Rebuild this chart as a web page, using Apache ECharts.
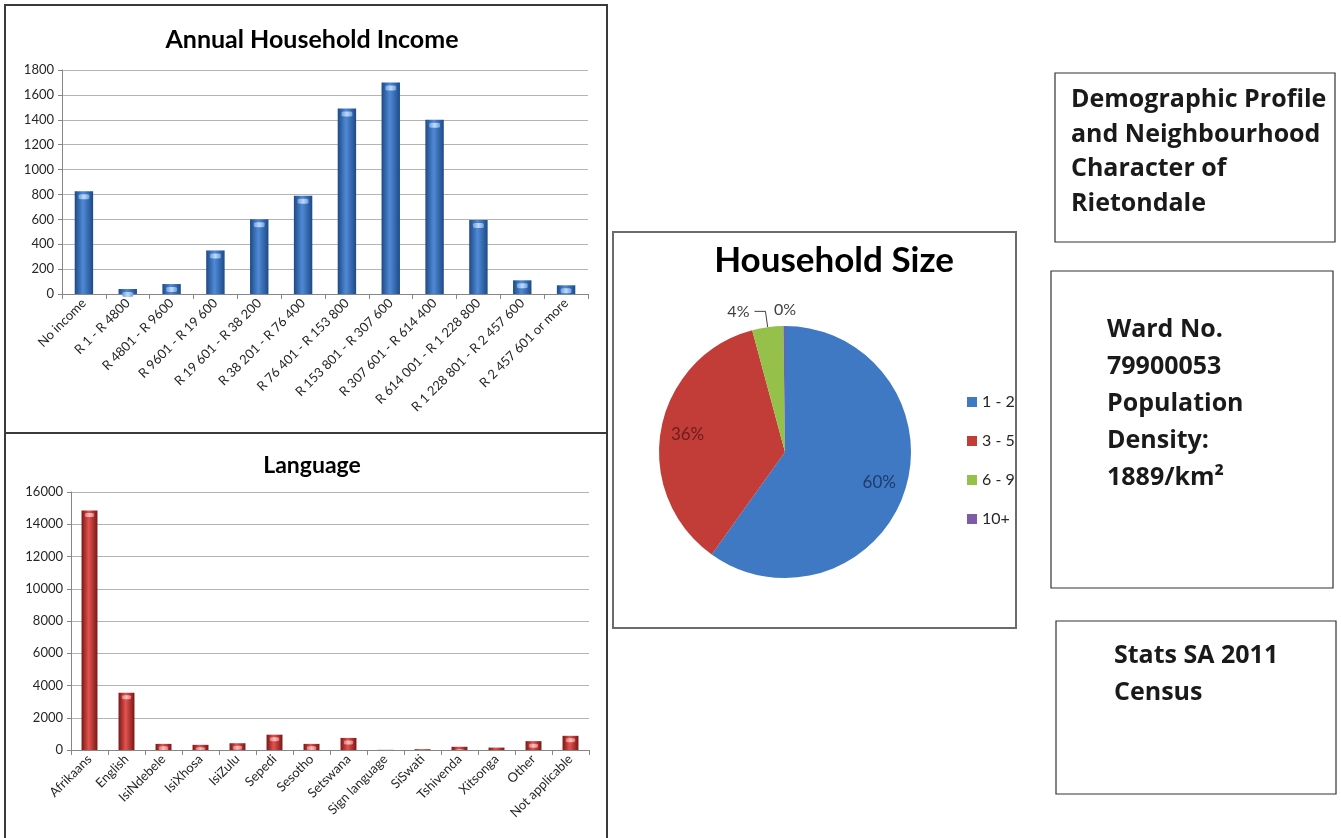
<!DOCTYPE html>
<html><head><meta charset="utf-8">
<script src="https://cdn.jsdelivr.net/npm/echarts@6/dist/echarts.min.js"></script>
<style>html,body{margin:0;padding:0;background:#fff;}#c{width:1341px;height:838px;}</style>
</head><body><div id="c"></div>
<script>
// ---- data ----
const incomeCategories = ['No income','R 1 - R 4800','R 4801 - R 9600','R 9601 - R 19 600','R 19 601 - R 38 200','R 38 201 - R 76 400','R 76 401 - R 153 800','R 153 801 - R 307 600','R 307 601 - R 614 400','R 614 001 - R 1 228 800','R 1 228 801 - R 2 457 600','R 2 457 601 or more'];
const incomeValues = [825, 40, 80, 350, 600, 790, 1490, 1700, 1400, 595, 110, 70];
const incomeTicks = [0, 200, 400, 600, 800, 1000, 1200, 1400, 1600, 1800];

const languageCategories = ['Afrikaans','English','IsiNdebele','IsiXhosa','IsiZulu','Sepedi','Sesotho','Setswana','Sign language','SiSwati','Tshivenda','Xitsonga','Other','Not applicable'];
const languageValues = [14850, 3550, 380, 320, 420, 950, 380, 750, 10, 50, 200, 150, 550, 880];
const languageTicks = [0, 2000, 4000, 6000, 8000, 10000, 12000, 14000, 16000];

const sizeCategories = ['1 - 2', '3 - 5', '6 - 9', '10+'];
const sizeValues = [60, 36, 4, 0.2];

// ---- styling ----
const FONT = 'Lato, "Open Sans", sans-serif';
const BOXFONT = '"Open Sans", "DejaVu Sans", sans-serif';
const sizeColors = ['#3f78c3', '#c23c38', '#95c049', '#7d5ba6'];
const sizeLabelColors = ['#1d3c6c', '#6c1d1d', '#404040', '#404040'];

function barGrad(dark, light) {
  return new echarts.graphic.LinearGradient(0, 0, 1, 0, [
    {offset: 0, color: dark}, {offset: 0.45, color: light}, {offset: 1, color: dark}
  ]);
}
function capGrad(edge, light) {
  return new echarts.graphic.LinearGradient(0, 0, 1, 0, [
    {offset: 0, color: edge}, {offset: 0.5, color: light}, {offset: 1, color: edge}
  ]);
}
function yAxisFor(ticks, gridIndex) {
  return {
    type: 'value', gridIndex,
    min: ticks[0], max: ticks[ticks.length - 1], interval: ticks[1] - ticks[0],
    axisLine: {show: true, lineStyle: {color: '#868686'}},
    axisTick: {show: true, length: 4, lineStyle: {color: '#868686'}},
    splitLine: {lineStyle: {color: '#b4b4b4'}},
    axisLabel: {fontFamily: FONT, fontSize: 13, color: '#262626', margin: 8,
      formatter: v => String(v)}
  };
}
function xAxisFor(cats, gridIndex) {
  return {
    type: 'category', gridIndex, data: cats,
    axisLine: {lineStyle: {color: '#868686'}},
    axisTick: {show: true, length: 5, lineStyle: {color: '#868686'}},
    axisLabel: {fontFamily: FONT, fontSize: 13, color: '#262626', rotate: 45, interval: 0, margin: 7}
  };
}

const chart = echarts.init(document.getElementById('c'), null, {renderer: 'canvas'});
const option = {
  animation: false,
  backgroundColor: '#ffffff',
  title: [
    {text: 'Annual Household Income', left: 307, top: 22, textAlign: 'center',
     textStyle: {fontFamily: FONT, fontSize: 25, fontWeight: 'bold', color: '#000'}},
    {text: 'Language', left: 307, top: 449, textAlign: 'center',
     textStyle: {fontFamily: FONT, fontSize: 23, fontWeight: 'bold', color: '#000'}},
    {text: 'Household Size', left: 829, top: 238, textAlign: 'center',
     textStyle: {fontFamily: FONT, fontSize: 35, fontWeight: 'bold', color: '#000'}}
  ],
  grid: [
    {left: 62, top: 70, width: 526, height: 224},
    {left: 71, top: 492, width: 518, height: 258}
  ],
  xAxis: [xAxisFor(incomeCategories, 0), xAxisFor(languageCategories, 1)],
  yAxis: [yAxisFor(incomeTicks, 0), yAxisFor(languageTicks, 1)],
  legend: {
    data: sizeCategories, orient: 'vertical', left: 962, top: 389,
    itemWidth: 10, itemHeight: 10, itemGap: 23, icon: 'rect',
    textStyle: {fontFamily: FONT, fontSize: 16, color: '#262626'}
  },
  series: [
    {type: 'bar', xAxisIndex: 0, yAxisIndex: 0, data: incomeValues, barWidth: '42%', barGap: '-100%',
     itemStyle: {color: barGrad('#1d4a86', '#4f8ad6')}},
    {type: 'pictorialBar', xAxisIndex: 0, yAxisIndex: 0, data: incomeValues, silent: true,
     symbol: 'roundRect', symbolSize: ['36%', 5], symbolPosition: 'end', symbolOffset: [0, 3], z: 3,
     itemStyle: {color: capGrad('#6e9ee0', '#c2daf7')}},
    {type: 'bar', xAxisIndex: 1, yAxisIndex: 1, data: languageValues, barWidth: '43%', barGap: '-100%',
     itemStyle: {color: barGrad('#7a1616', '#e2544f')}},
    {type: 'pictorialBar', xAxisIndex: 1, yAxisIndex: 1, data: languageValues, silent: true,
     symbol: 'roundRect', symbolSize: ['36%', 4], symbolPosition: 'end', symbolOffset: [0, 2.5], z: 3,
     symbolClip: true,
     itemStyle: {color: capGrad('#e57573', '#f8c0be')}},
    {type: 'pie', name: 'Household Size', center: [785, 452], radius: 126,
     startAngle: 90, clockwise: true, avoidLabelOverlap: false,
     data: sizeCategories.map((n, i) => ({
       name: n, value: sizeValues[i],
       itemStyle: {color: sizeColors[i]},
       label: i < 2 ? {show: false} : {show: true},
       labelLine: i < 2 ? {show: false} : {show: i === 2}
     })),
     label: {position: 'outside', fontFamily: FONT, fontSize: 16, color: '#404040',
       formatter: p => Math.round(p.percent) + '%'},
     labelLine: {length: 16, length2: 11, lineStyle: {color: '#404040', width: 1}},
     labelLayout: function (params) {
       if (params.dataIndex === 3) {
         return {dx: 28, dy: 0};
       }
       return {};
     }
    },
    // inner percentage labels for the two large slices, sharing the same data
    {type: 'pie', name: 'labels', center: [785, 452], radius: [0, 192], silent: true,
     startAngle: 90, clockwise: true, legendHoverLink: false,
     data: sizeCategories.map((n, i) => ({
       name: n, value: sizeValues[i],
       itemStyle: {color: 'rgba(0,0,0,0)'},
       label: {show: i < 2, color: sizeLabelColors[i]}
     })),
     label: {position: 'inside', fontFamily: FONT, fontSize: 17,
       formatter: p => Math.round(p.percent) + '%'},
     labelLine: {show: false}
    }
  ],
  graphic: [
    {type: 'rect', shape: {x: 5, y: 5, width: 602, height: 428}, style: {fill: 'none', stroke: '#3a3a3a', lineWidth: 2}, z: 100},
    {type: 'rect', shape: {x: 5, y: 433, width: 602, height: 420}, style: {fill: 'none', stroke: '#3a3a3a', lineWidth: 2}, z: 100},
    {type: 'rect', shape: {x: 613, y: 232, width: 403, height: 396}, style: {fill: 'none', stroke: '#6b6b6b', lineWidth: 2}, z: 100},
    {type: 'rect', shape: {x: 1055, y: 73, width: 280, height: 169}, style: {fill: 'none', stroke: '#333', lineWidth: 1.2}, z: 100},
    {type: 'rect', shape: {x: 1051, y: 271, width: 282, height: 317}, style: {fill: 'none', stroke: '#333', lineWidth: 1.2}, z: 100},
    {type: 'rect', shape: {x: 1056, y: 621, width: 280, height: 173}, style: {fill: 'none', stroke: '#333', lineWidth: 1.2}, z: 100},
    {type: 'text', left: 1071, top: 83, z: 100,
     style: {text: 'Demographic Profile\nand Neighbourhood\nCharacter of\nRietondale', fill: '#1a1a1a', font: 'bold 25px ' + BOXFONT, lineHeight: 34.5}},
    {type: 'text', left: 1107, top: 311, z: 100,
     style: {text: 'Ward No.\n79900053\nPopulation\nDensity:\n1889/km²', fill: '#1a1a1a', font: 'bold 25px ' + BOXFONT, lineHeight: 37}},
    {type: 'text', left: 1114, top: 637, z: 100,
     style: {text: 'Stats SA 2011\nCensus', fill: '#1a1a1a', font: 'bold 25px ' + BOXFONT, lineHeight: 37}}
  ]
};
chart.setOption(option);
</script>
</body></html>
